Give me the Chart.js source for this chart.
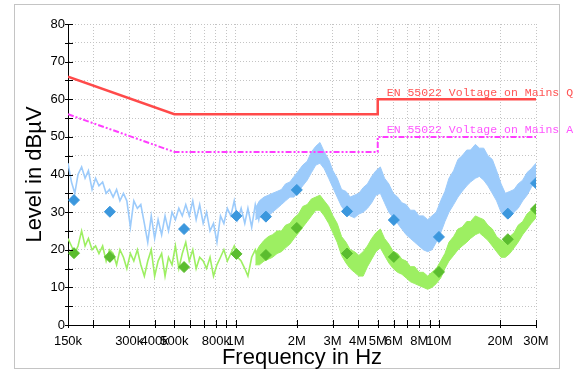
<!DOCTYPE html>
<html>
<head>
<meta charset="utf-8">
<script src="https://cdn.jsdelivr.net/npm/chart.js@4.4.1/dist/chart.umd.min.js"></script>
<style>
  html, body { margin: 0; padding: 0; background: #fff; }
  #chart { display: block; }
</style>
</head>
<body>
<canvas id="chart" width="573" height="370"></canvas>
<script>
// Low-frequency part of the scans (kHz), drawn as a jagged trace
const jagFreqKHz = [150, 156, 162, 168, 175, 182, 189, 197, 205, 213,
  222, 231, 240, 250, 260, 270, 281, 292, 304, 316,
  329, 342, 356, 370, 385, 400, 416, 433, 450, 468,
  487, 506, 526, 547, 569, 592, 616, 640, 666, 693,
  720, 749, 779, 810, 843, 876, 911, 948, 985, 1025,
  1065, 1110, 1150, 1200, 1250, 1300, 1350];
const peakJag = [43, 38, 35, 40, 42, 39, 41, 36, 39, 37,
  38, 35, 36, 34, 36, 33, 35, 33, 26, 33,
  31, 32, 27, 22, 29, 23, 28, 24, 29, 25,
  30, 28, 31, 29, 32, 29, 33, 28, 32, 27,
  30, 25, 27, 22, 29, 27, 31, 29, 33, 28,
  31, 27, 31, 26, 32, 28, 33];
const avgJag = [23, 21, 19, 21, 25, 21, 23, 20, 21, 19,
  21, 17, 20, 19, 16, 20, 18, 15, 19, 17,
  20, 16, 13, 17, 20, 13, 17, 19, 13, 18,
  16, 21, 15, 19, 22, 17, 20, 15, 18, 17,
  15, 18, 13, 16, 18, 20, 17, 19, 21, 18,
  17, 15, 13, 18, 20, 17, 21];

// High-frequency part (MHz), drawn as a band between upper and lower envelope
const bandFreqMHz = [1.25, 1.31, 1.38, 1.45, 1.52, 1.6, 1.68, 1.76, 1.85, 1.94,
  2.04, 2.14, 2.25, 2.36, 2.48, 2.6, 2.73, 2.87, 3.01, 3.16,
  3.32, 3.49, 3.66, 3.84, 4.04, 4.24, 4.45, 4.67, 4.9, 5.15,
  5.4, 5.67, 5.96, 6.26, 6.57, 6.9, 7.24, 7.6, 7.98, 8.38,
  8.8, 9.24, 9.7, 10.2, 10.7, 11.2, 11.8, 12.4, 13.0, 13.7,
  14.3, 15.1, 15.8, 16.6, 17.4, 18.3, 19.2, 20.2, 21.2, 22.3,
  23.4, 24.5, 25.8, 27.1, 28.4, 30.0];
const peakTop = [31, 33, 34, 34.5, 35, 35.5, 36, 37.5, 38, 39.5,
  41, 42.5, 43.5, 46, 47.5, 48.5, 46, 44, 41, 39,
  36, 35.5, 34, 34.5, 35, 36.5, 37.5, 39.5, 41, 42,
  39, 37.5, 35, 34, 32.5, 32, 30.5, 30.5, 29, 29,
  28, 29, 30, 33, 35.5, 39, 41, 44, 45, 46.5,
  46.5, 48, 47, 47, 45, 44, 41, 37.5, 35, 35.5,
  36, 37.5, 38.5, 40.5, 41.5, 43];
const peakBot = [28, 28.5, 29, 29, 30, 31, 32, 33, 34, 34,
  35.5, 37, 38.5, 40.5, 42.5, 43, 41.5, 39, 36.5, 34,
  31.5, 30, 29, 28.5, 29.5, 30, 31, 32.5, 34.5, 35,
  32.5, 30, 28.5, 27, 25.5, 24, 23, 22, 21, 20,
  19.5, 20, 22, 24.5, 27.5, 30, 32, 34, 35.5, 37,
  38, 39, 39.5, 38.5, 37, 35, 33, 30, 29, 28.5,
  30, 31, 33, 34.5, 36.5, 38.5];
const avgTop = [19, 21, 22.5, 23.5, 24, 25, 25, 26.5, 27, 28.5,
  29.5, 31.5, 32, 33.5, 34, 34.5, 33, 31.5, 29, 27,
  23.5, 22, 20, 19.5, 18.5, 19.5, 21, 23, 24.5, 25.5,
  23, 21.5, 19.5, 19, 17.5, 17, 15.5, 15.5, 14, 14,
  13, 14, 15, 17, 19, 22, 23.5, 25.5, 26, 27.5,
  27.5, 29, 28.5, 28, 26.5, 25.5, 23.5, 22.5, 22, 23.5,
  24.5, 26.5, 27.5, 29.5, 30.5, 32];
const avgBot = [16, 16, 17, 17.5, 18, 19, 19.5, 20.5, 21.5, 23,
  24.5, 26, 27.5, 29, 30.5, 30.5, 29, 27, 24.5, 22,
  18.5, 16.5, 15, 14, 13, 13, 15.5, 17.5, 19.5, 20.5,
  18.5, 16.5, 15, 14, 13.5, 12.5, 11.5, 11, 10.5, 10,
  9.5, 10, 11, 12.5, 15, 17, 18.5, 20, 21, 22,
  23, 24, 24.5, 23.5, 22.5, 21, 19.5, 18, 18, 19,
  20.5, 22, 24, 25.5, 27, 28.5];

// Final measurement points (diamonds)
const markFreqMHz = [0.1605, 0.241, 0.558, 1.01, 1.41, 2.0, 3.53, 6.0, 10.0, 21.8, 30.0];
const markPeak = [33.2, 30.1, 25.5, 29.0, 28.8, 35.9, 30.2, 27.9, 23.4, 29.6, 37.7];
const markAvg = [19.1, 18.1, 15.4, 18.9, 18.6, 25.8, 19.0, 18.1, 14.1, 22.8, 30.8];

// EN 55022 limit lines
const limitFreqMHz = [0.15, 0.5, 5, 5, 30];
const qpLimit = [66, 56, 56, 60, 60];
const avLimit = [56, 46, 46, 50, 50];
const limitNames = ['EN 55022 Voltage on Mains QP', 'EN 55022 Voltage on Mains AV'];

// x axis ticks
const tickFreqs = [150e3, 200e3, 300e3, 400e3, 500e3, 600e3, 700e3, 800e3, 900e3,
  1e6, 2e6, 3e6, 4e6, 5e6, 6e6, 7e6, 8e6, 9e6, 10e6, 20e6, 30e6];
const tickLabels = ['150k', '', '300k', '400k', '500k', '', '', '800k', '',
  '1M', '2M', '3M', '4M', '5M', '6M', '', '8M', '', '10M', '20M', '30M'];

const blueTrace = '#9ccbfb';
const greenTrace = '#9def62';

function pts(freqs, mult, vals) {
  return vals.map((v, i) => ({ x: freqs[i] * mult, y: v }));
}

const labelFor = {};
tickFreqs.forEach((f, i) => { labelFor[f] = tickLabels[i]; });

// white page + light gray frame
const framePlugin = {
  id: 'frame',
  beforeDraw(chart) {
    const ctx = chart.ctx;
    ctx.save();
    ctx.fillStyle = '#fff';
    ctx.fillRect(0, 0, chart.width, chart.height);
    ctx.strokeStyle = '#c4c4c4';
    ctx.lineWidth = 1;
    ctx.strokeRect(14.5, 4.5, 545, 364);
    ctx.restore();
  }
};

// crossing tick marks and limit names
const extrasPlugin = {
  id: 'extras',
  afterDraw(chart) {
    const ctx = chart.ctx;
    const xs = chart.scales.x, ys = chart.scales.y;
    const area = chart.chartArea;
    ctx.save();
    ctx.strokeStyle = '#000';
    ctx.lineWidth = 1;
    ctx.beginPath();
    ys.ticks.forEach(t => {
      const y = Math.round(ys.getPixelForValue(t.value)) + 0.5;
      ctx.moveTo(area.left - 3, y);
      ctx.lineTo(area.left + 5, y);
    });
    tickFreqs.forEach(f => {
      const x = Math.round(xs.getPixelForValue(f)) + 0.5;
      ctx.moveTo(x, area.bottom - 5);
      ctx.lineTo(x, area.bottom + 3);
    });
    ctx.stroke();

    ctx.font = '11.5px "Liberation Mono", monospace';
    ctx.textBaseline = 'bottom';
    ctx.textAlign = 'left';
    const x0 = xs.getPixelForValue(5e6) + 9;
    ctx.fillStyle = '#ff5555';
    ctx.fillText(limitNames[0], x0, ys.getPixelForValue(qpLimit[4]) - 1);
    ctx.fillStyle = '#ff55ff';
    ctx.fillText(limitNames[1], x0, ys.getPixelForValue(avLimit[4]) - 1);
    ctx.restore();
  }
};

const bandStyle = (color) => ({
  borderColor: color, backgroundColor: color, borderWidth: 1,
  pointRadius: 0, tension: 0, order: 3
});

new Chart(document.getElementById('chart'), {
  type: 'line',
  data: {
    datasets: [
      { data: pts(markFreqMHz, 1e6, markPeak), showLine: false, pointStyle: 'rectRot',
        pointRadius: 5.5, backgroundColor: '#3b97dd', borderColor: '#3b97dd', order: 0 },
      { data: pts(markFreqMHz, 1e6, markAvg), showLine: false, pointStyle: 'rectRot',
        pointRadius: 5.5, backgroundColor: '#5bbd2f', borderColor: '#5bbd2f', order: 0 },
      { data: pts(limitFreqMHz, 1e6, qpLimit), borderColor: '#ff4a4a', borderWidth: 2.5,
        pointRadius: 0, tension: 0, fill: false, order: 1 },
      { data: pts(limitFreqMHz, 1e6, avLimit), borderColor: '#ff3dff', borderWidth: 2,
        borderDash: [6, 2, 2, 2, 2, 2], pointRadius: 0, tension: 0, fill: false, order: 1 },
      Object.assign({ data: pts(bandFreqMHz, 1e6, peakTop), fill: '+1' }, bandStyle(blueTrace)),
      Object.assign({ data: pts(bandFreqMHz, 1e6, peakBot), fill: false }, bandStyle(blueTrace)),
      Object.assign({ data: pts(bandFreqMHz, 1e6, avgTop), fill: '+1' }, bandStyle(greenTrace)),
      Object.assign({ data: pts(bandFreqMHz, 1e6, avgBot), fill: false }, bandStyle(greenTrace)),
      { data: pts(jagFreqKHz, 1e3, peakJag), borderColor: blueTrace, borderWidth: 1.6,
        pointRadius: 0, tension: 0, fill: false, order: 3 },
      { data: pts(jagFreqKHz, 1e3, avgJag), borderColor: greenTrace, borderWidth: 1.6,
        pointRadius: 0, tension: 0, fill: false, order: 3 }
    ]
  },
  options: {
    responsive: false,
    animation: false,
    devicePixelRatio: 1,
    layout: { padding: { left: 14, top: 24, right: 37, bottom: 0 } },
    plugins: { legend: { display: false }, tooltip: { enabled: false } },
    scales: {
      x: {
        type: 'logarithmic',
        min: 150e3,
        max: 30e6,
        afterBuildTicks: s => { s.ticks = tickFreqs.map(v => ({ value: v })); },
        afterFit: s => { s.height = 45; },
        ticks: {
          autoSkip: false, maxRotation: 0, minRotation: 0, padding: 9, color: '#000',
          font: { family: '"Liberation Sans", Arial, sans-serif', size: 13 },
          callback: v => labelFor[v] || ''
        },
        grid: { color: '#c4c4c4', drawTicks: false },
        border: { color: '#000', width: 1, dash: [1, 2] },
        title: {
          display: true, text: 'Frequency in Hz', color: '#000',
          font: { family: '"Liberation Sans", Arial, sans-serif', size: 22 },
          padding: { top: 0, bottom: -1 }
        }
      },
      y: {
        min: 0,
        max: 80,
        afterFit: s => { s.width = 54; },
        ticks: {
          stepSize: 5, autoSkip: false, padding: 3, color: '#000',
          font: { family: '"Liberation Sans", Arial, sans-serif', size: 13 },
          callback: v => (v % 10 === 0 ? v : '')
        },
        grid: { color: '#c4c4c4', drawTicks: false },
        border: { color: '#000', width: 1, dash: [1, 2] },
        title: {
          display: true, text: 'Level in dBµV', color: '#000',
          font: { family: '"Liberation Sans", Arial, sans-serif', size: 22 },
          padding: { top: 8, bottom: 0 }
        }
      }
    }
  },
  plugins: [framePlugin, extrasPlugin]
});
</script>
</body>
</html>
